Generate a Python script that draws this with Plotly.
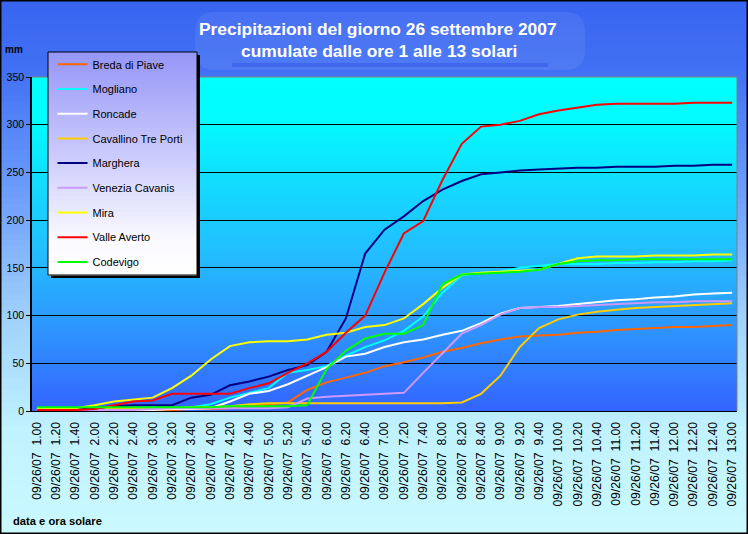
import plotly.graph_objects as go

# ---------------- data ----------------
hours = [f"{h}.{m:02d}" for h in range(1, 13) for m in (0, 20, 40)] + ["13.00"]
tick_labels = ["09/26/07\u00a0\u00a0" + t for t in hours]

series_names = ["Breda di Piave", "Mogliano", "Roncade", "Cavallino Tre Porti", "Marghera",
                "Venezia Cavanis", "Mira", "Valle Averto", "Codevigo"]

breda = [0, 0, 0, 1, 1, 1, 1, 1, 2, 2, 3, 5, 7, 9, 22, 30, 35, 40, 47, 51, 56, 62, 66, 71, 75,
         78, 79, 80, 82, 83, 85, 86, 87, 88, 88, 89, 90]
mogliano = [2, 2, 2, 2, 2, 2, 3, 3, 4, 7, 14, 19, 24, 40, 43, 47, 58, 67, 74, 84, 99, 124, 142,
            145, 146, 150, 152, 154, 154, 154, 155, 155, 156, 156, 157, 157, 158]
roncade = [1, 1, 1, 1, 1, 1, 1, 2, 2, 3, 10, 18, 21, 28, 37, 46, 57, 60, 67, 72, 75, 80, 84, 92,
           102, 108, 109, 110, 112, 114, 116, 117, 119, 120, 122, 123, 124]
cavallino = [1, 1, 2, 2, 2, 3, 3, 3, 4, 4, 5, 7, 8, 8, 8, 8, 8, 8, 8, 8, 8, 8, 9, 18, 37, 67, 87,
             96, 101, 104, 106, 108, 109, 110, 111, 112, 113]
marghera = [1, 1, 2, 3, 5, 6, 6, 6, 14, 17, 27, 31, 36, 43, 48, 62, 97, 165, 190, 204, 220, 232,
            241, 248, 250, 252, 253, 254, 255, 255, 256, 256, 256, 257, 257, 258, 258]
venezia = [1, 1, 1, 1, 1, 1, 2, 3, 3, 3, 3, 3, 3, 4, 13, 15, 16, 17, 18, 19, 40, 60, 81, 90, 101,
           108, 109, 109, 110, 111, 112, 113, 114, 114, 115, 115, 115]
mira = [2, 3, 3, 6, 10, 12, 14, 24, 37, 54, 68, 72, 73, 73, 75, 80, 82, 88, 90, 97, 112, 129, 143,
        145, 146, 147, 148, 154, 160, 162, 162, 162, 163, 163, 163, 164, 164]
valle = [1, 1, 1, 2, 6, 10, 11, 18, 18, 18, 18, 24, 29, 40, 50, 62, 82, 100, 145, 186, 199, 242,
         280, 298, 300, 304, 311, 315, 318, 321, 322, 322, 322, 322, 323, 323, 323]
codevigo = [4, 4, 4, 4, 4, 4, 4, 4, 4, 4, 5, 5, 5, 5, 6, 44, 63, 76, 81, 81, 90, 133, 143, 144,
            145, 146, 148, 154, 157, 158, 158, 159, 159, 159, 159, 159, 159]

series_values = [breda, mogliano, roncade, cavallino, marghera, venezia, mira, valle, codevigo]
series_colors = ["#ff6600", "#00ffff", "#ffffff", "#ffcc00", "#000080",
                 "#cc99ff", "#ffff00", "#ff0000", "#00ff00"]

y_ticks = [0, 50, 100, 150, 200, 250, 300, 350]

# ---------------- geometry helpers ----------------
W, H = 748, 534
L, R, T, B = 32, 11, 77, 123
PW, PH = W - L - R, H - T - B


def px2x(px):
    return (px - L) / PW


def py2y(py):
    return (H - B - py) / PH


def lerp(stops, v):
    if v <= stops[0][0]:
        return stops[0][1]
    for (a, ca), (b, cb) in zip(stops, stops[1:]):
        if a <= v <= b:
            t = (v - a) / (b - a)
            return tuple(round(ca[i] + (cb[i] - ca[i]) * t) for i in range(3))
    return stops[-1][1]


def rgb(c):
    return f"rgb({c[0]},{c[1]},{c[2]})"


shapes = []


def gradient(x0, x1, y0, y1, stops, step, layer):
    y = y0
    while y < y1:
        yb = min(y + step, y1)
        c = lerp(stops, (y + yb) / 2)
        shapes.append(dict(type="rect", xref="paper", yref="paper",
                           x0=px2x(x0), x1=px2x(x1), y0=py2y(yb + 0.5), y1=py2y(y),
                           fillcolor=rgb(c), line=dict(width=0), layer=layer))
        y = yb


# chart area background
gradient(0, W, 0, H, [(0, (56, 100, 240)), (70, (66, 112, 244)), (200, (112, 160, 250)),
                       (320, (160, 210, 252)), (430, (192, 242, 255)), (534, (202, 250, 255))],
         6, "below")

# title decoration
shapes.append(dict(type="path", xref="paper", yref="paper", layer="below",
                   path=" ".join([
                       f"M{px2x(215)},{py2y(12)}", f"L{px2x(565)},{py2y(12)}",
                       f"Q{px2x(585)},{py2y(12)} {px2x(585)},{py2y(32)}",
                       f"L{px2x(585)},{py2y(50)}",
                       f"Q{px2x(585)},{py2y(70)} {px2x(565)},{py2y(70)}",
                       f"L{px2x(215)},{py2y(70)}",
                       f"Q{px2x(195)},{py2y(70)} {px2x(195)},{py2y(50)}",
                       f"L{px2x(195)},{py2y(32)}",
                       f"Q{px2x(195)},{py2y(12)} {px2x(215)},{py2y(12)} Z"]),
                   fillcolor="rgba(255,255,255,0.07)", line=dict(width=0)))
shapes.append(dict(type="rect", xref="paper", yref="paper", layer="below",
                   x0=px2x(232), x1=px2x(548), y0=py2y(67), y1=py2y(63),
                   fillcolor="rgba(40,70,220,0.35)", line=dict(width=0)))

# plot area background
gradient(L, W - R, T, H - B, [(77, (0, 255, 255)), (120, (2, 252, 255)), (200, (22, 212, 255)),
                              (260, (36, 186, 255)), (330, (46, 148, 255)), (411, (52, 100, 255))],
         4, "below")

# plot border (top / right)
shapes.append(dict(type="line", xref="paper", yref="paper", x0=0, x1=1, y0=1, y1=1,
                   line=dict(color="#808080", width=1), layer="above"))
shapes.append(dict(type="line", xref="paper", yref="paper", x0=1, x1=1, y0=0, y1=1,
                   line=dict(color="#808080", width=1), layer="above"))

# legend box: shadow, gradient, border
LX0, LX1, LY0, LY1 = 48, 197, 52, 275
shapes.append(dict(type="rect", xref="paper", yref="paper", layer="above",
                   x0=px2x(LX0 + 3), x1=px2x(LX1 + 3), y0=py2y(LY1 + 3), y1=py2y(LY0 + 3),
                   fillcolor="black", line=dict(width=0)))
gradient(LX0, LX1, LY0, LY1, [(52, (150, 150, 248)), (150, (200, 200, 252)),
                              (240, (250, 250, 255)), (275, (255, 255, 255))], 4, "above")
shapes.append(dict(type="rect", xref="paper", yref="paper", layer="above",
                   x0=px2x(LX0), x1=px2x(LX1), y0=py2y(LY1), y1=py2y(LY0),
                   fillcolor="rgba(0,0,0,0)", line=dict(color="black", width=1)))

# outer border
shapes.append(dict(type="rect", xref="paper", yref="paper", layer="above",
                   x0=px2x(0.75), x1=px2x(W - 0.75), y0=py2y(H - 0.75), y1=py2y(0.75),
                   fillcolor="rgba(0,0,0,0)", line=dict(color="black", width=1.5)))

FONT = "Liberation Sans, Arial, sans-serif"

fig = go.Figure()
x_idx = list(range(len(hours)))
for name, vals, col in zip(series_names, series_values, series_colors):
    fig.add_trace(go.Scatter(x=x_idx, y=vals, mode="lines", name=name, legendgroup=name,
                             line=dict(color=col, width=2)))

annotations = [
    dict(text="<b>Precipitazioni del giorno 26 settembre 2007</b>", xref="paper", yref="paper",
         x=px2x(378), y=py2y(29), showarrow=False, xanchor="center", yanchor="middle",
         font=dict(family=FONT, size=17.4, color="white")),
    dict(text="<b>cumulate dalle ore 1 alle 13 solari</b>", xref="paper", yref="paper",
         x=px2x(379), y=py2y(51), showarrow=False, xanchor="center", yanchor="middle",
         font=dict(family=FONT, size=17.4, color="white")),
    dict(text="<b>mm</b>", xref="paper", yref="paper", x=px2x(3), y=py2y(49),
         showarrow=False, xanchor="left", yanchor="middle",
         font=dict(family=FONT, size=10, color="black")),
    dict(text="<b>data e ora solare</b>", xref="paper", yref="paper", x=px2x(11), y=py2y(521),
         showarrow=False, xanchor="left", yanchor="middle",
         font=dict(family=FONT, size=11.2, color="black")),
]

fig.update_layout(
    width=W, height=H,
    margin=dict(l=L, r=R, t=T, b=B, pad=0),
    paper_bgcolor="rgb(140,190,250)",
    plot_bgcolor="rgba(0,0,0,0)",
    shapes=shapes,
    annotations=annotations,
    showlegend=True,
    legend=dict(x=px2x(52.5), y=py2y(49.8), xanchor="left", yanchor="top",
                bgcolor="rgba(0,0,0,0)", borderwidth=0, tracegroupgap=5.7, itemwidth=30,
                font=dict(family=FONT, size=11, color="black"), traceorder="grouped"),
    xaxis=dict(range=[-0.25, 36.25], tickmode="array", tickvals=x_idx, ticktext=tick_labels,
               tickangle=-90, showgrid=False, zeroline=False, showline=True, linecolor="black",
               linewidth=1, ticks="outside", ticklen=5, tickcolor="rgba(0,0,0,0)",
               automargin=False,
               tickfont=dict(family=FONT, size=12.2, color="black")),
    yaxis=dict(range=[0, 350], tickmode="array", tickvals=y_ticks, showgrid=True,
               gridcolor="black", gridwidth=1, zeroline=False, showline=True, linecolor="black",
               linewidth=1.5, ticks="outside", ticklen=4, tickcolor="black", automargin=False,
               tickfont=dict(family=FONT, size=10.5, color="black")),
)

fig.write_html("out.html", config={"displayModeBar": False},
               post_script="document.body.style.margin='0';document.body.style.overflow='hidden';")
